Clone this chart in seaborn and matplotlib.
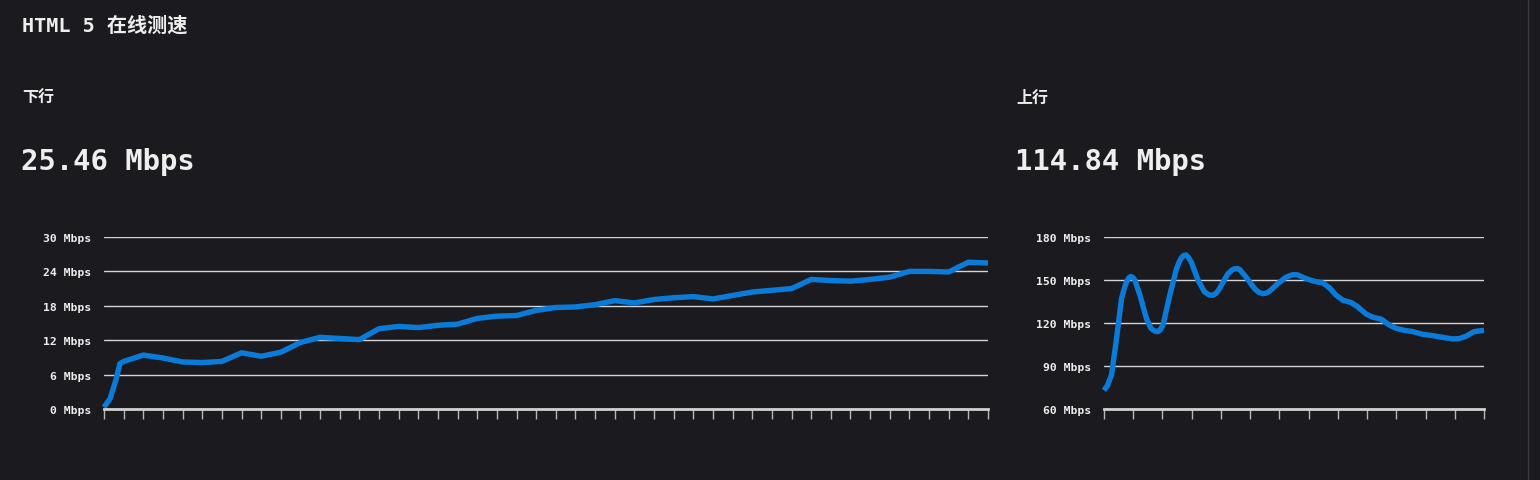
import numpy as np
import pandas as pd
import seaborn as sns
import matplotlib.pyplot as plt

# download samples (position in tick units, Mbps)
down_t = [0, 0.31, 0.6, 0.81, 1, 2, 3, 4, 5, 6, 7, 8, 9,
          10, 11, 12, 13, 14, 15, 16, 17, 18, 19,
          20, 21, 22, 23, 24, 25, 26, 27, 28, 29,
          30, 31, 32, 33, 34, 35, 36, 37, 38, 39,
          40, 41, 42, 43, 44, 45]
down_mbps = [0.3, 1.8, 5.0, 7.9, 8.3, 9.4, 8.9, 8.2, 8.1, 8.3, 9.8, 9.2, 9.9,
             11.6, 12.5, 12.3, 12.1, 14.0, 14.4, 14.2, 14.6, 14.8, 15.8,
             16.2, 16.3, 17.2, 17.7, 17.8, 18.2, 18.9, 18.5, 19.1, 19.4,
             19.6, 19.2, 19.8, 20.4, 20.7, 21.0, 22.6, 22.4, 22.3, 22.6,
             23.0, 24.0, 24.0, 23.9, 25.6, 25.46]

# upload curve (position in tick units, Mbps)
up_t = [0.0, 0.12, 0.26, 0.43, 0.60, 0.70, 0.77, 0.85, 0.92, 1.0, 1.06,
        1.23, 1.45, 1.60, 1.68, 1.76, 1.85, 1.93, 2.02, 2.25, 2.48, 2.58,
        2.65, 2.72, 2.80, 2.88, 2.99, 3.22, 3.44, 3.60, 3.73, 3.85,
        3.95, 4.24, 4.38, 4.47, 4.56, 4.64, 4.86, 5.15, 5.30, 5.43, 5.55,
        5.66, 5.94, 6.23, 6.45, 6.62, 6.86, 7.15, 7.49, 7.72, 7.94, 8.17,
        8.45, 8.68, 8.97, 9.19, 9.48, 9.76, 9.99, 10.27, 10.56, 10.90,
        11.24, 11.58, 11.92, 12.15, 12.38, 12.66, 13.0]
up_mbps = [73.0, 76.5, 84.0, 109.3, 137.0, 144.5, 148.6, 151.5, 152.5, 151.6, 149.7,
           139.4, 123.2, 116.5, 115.1, 114.2, 114.0, 115.5, 118.6, 139.4, 157.8, 163.0,
           165.5, 167.0, 167.5, 166.0, 162.4, 149.7, 141.7, 139.5, 139.4, 141.0,
           144.0, 154.4, 157.0, 157.8, 158.0, 157.4, 152.0, 144.0, 141.3, 140.5, 140.8,
           142.1, 147.4, 152.0, 153.7, 153.6, 151.4, 149.3, 147.9, 144.4, 139.4, 135.9,
           134.3, 131.3, 126.2, 124.1, 122.7, 118.6, 116.3, 114.9, 114.0, 112.1,
           111.2, 110.0, 108.9, 109.1, 110.7, 114.0, 114.84]

down_ticks = [0, 6, 12, 18, 24, 30]
up_ticks = [60, 90, 120, 150, 180]

BG = '#1b1a1f'
LINE = '#0a7bd8'
TXT = '#eeeeee'

sns.set_theme(style='dark', rc={
    'figure.facecolor': BG,
    'axes.facecolor': BG,
    'savefig.facecolor': BG,
})
plt.rcParams['font.family'] = ['DejaVu Sans Mono', 'Noto Sans CJK SC']

W, H = 1540, 481
fig = plt.figure(figsize=(W / 100, H / 100), dpi=100)


def px_axes(x0, x1, y_top, y_bot):
    return fig.add_axes([x0 / W, 1 - y_bot / H, (x1 - x0) / W, (y_bot - y_top) / H])


def style_axes(ax, t, v, ticks, n_xticks):
    df = pd.DataFrame({'t': t, 'v': v})
    sns.lineplot(data=df, x='t', y='v', ax=ax, color=LINE, linewidth=3.9,
                 solid_capstyle='butt', solid_joinstyle='round', clip_on=False)
    ax.set_xlim(0, n_xticks)
    ax.set_ylim(ticks[0], ticks[-1])
    ax.set_xticks(range(n_xticks + 1))
    ax.set_yticks(ticks)
    ax.set_yticklabels([f'{v} Mbps' for v in ticks])
    ax.set_xlabel('')
    ax.set_ylabel('')
    ax.set_axisbelow(True)
    ax.yaxis.grid(True, color='#d4d4d4', linewidth=1)
    ax.xaxis.grid(False)
    for s in ('top', 'left', 'right'):
        ax.spines[s].set_visible(False)
    ax.spines['bottom'].set_color('#d0d0d0')
    ax.spines['bottom'].set_linewidth(2)
    ax.tick_params(axis='x', bottom=True, length=7, width=1, color='#b8b8b8',
                   direction='out', labelbottom=False)
    ax.tick_params(axis='y', left=False, length=0, pad=9.5, labelsize=8.2,
                   labelcolor=TXT)
    for lab in ax.get_yticklabels():
        lab.set_fontweight('bold')


ax1 = px_axes(104, 988, 238, 410)
style_axes(ax1, down_t, down_mbps, down_ticks, 45)

ax2 = px_axes(1104, 1484, 238, 410)
style_axes(ax2, up_t, up_mbps, up_ticks, 13)

# header texts
fig.text(22 / W, 1 - 26 / H, 'HTML 5 在线测速', color=TXT, fontsize=14.5,
         fontweight='bold', va='center', ha='left')
fig.text(22 / W, 1 - 98 / H, '下行', color=TXT, fontsize=11.5,
         fontweight='bold', va='center', ha='left')
fig.text(1016 / W, 1 - 98 / H, '上行', color=TXT, fontsize=11.5,
         fontweight='bold', va='center', ha='left')
fig.text(21 / W, 1 - 170 / H, '25.46 Mbps', color=TXT, fontsize=20.8,
         fontweight='bold', va='baseline', ha='left')
fig.text(1015 / W, 1 - 170 / H, '114.84 Mbps', color=TXT, fontsize=20.8,
         fontweight='bold', va='baseline', ha='left')

# right panel divider
fig.add_artist(plt.Line2D([1527.5 / W, 1527.5 / W], [0, 1], color='#3c3b41',
                          linewidth=1, transform=fig.transFigure))

fig.savefig('out.png', dpi=100, facecolor=BG)
